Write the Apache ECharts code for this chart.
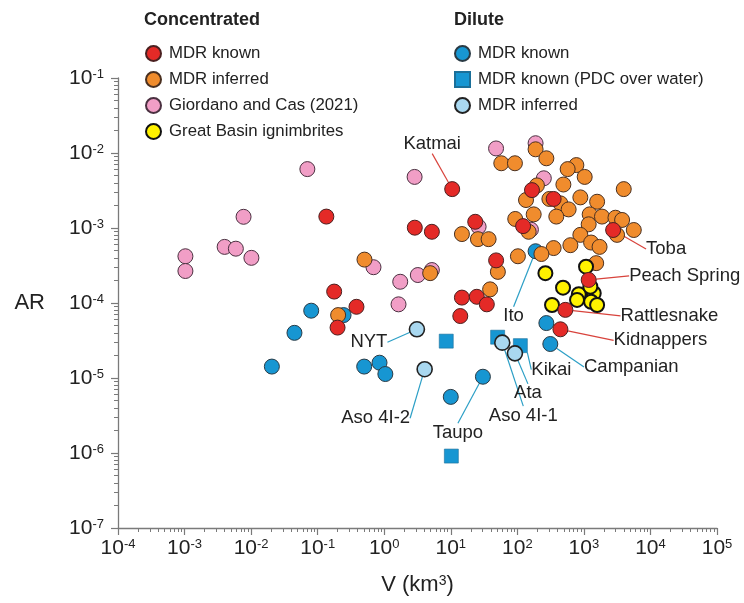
<!DOCTYPE html>
<html><head><meta charset="utf-8">
<script src="https://cdn.jsdelivr.net/npm/echarts@6/dist/echarts.min.js"></script>
<style>html,body{margin:0;padding:0;background:#fff}#c{width:744px;height:603px}</style>
</head><body><div id="c"></div>
<script>
// ---------- DATA ----------
// Concentrated – MDR known (red)
const concKnownV  = [0.135, 0.177, 0.383, 0.199, 10.5, 2.88, 5.2, 23.3, 166, 351, 2750, 122, 48, 14.7, 24.6, 34.8, 13.9, 1180, 527, 444];
const concKnownAR = [1.42e-3, 1.42e-4, 8.9e-5, 4.7e-5, 3.3e-3, 1.01e-3, 8.9e-4, 1.21e-3, 3.2e-3, 2.44e-3, 9.4e-4, 1.06e-3, 3.7e-4, 1.18e-4, 1.21e-4, 9.6e-5, 6.7e-5, 2.03e-4, 8.1e-5, 4.46e-5];
const concKnownNames = ['', '', '', '', 'Katmai', '', '', '', '', '', 'Toba', '', '', '', '', '', '', 'Peach Spring', 'Rattlesnake', 'Kidnappers'];
// Concentrated – MDR inferred (orange)
const concInfV  = [0.505, 0.203, 188, 273, 57.4, 92, 771, 570, 1028, 492, 3970, 197, 885, 1580, 303, 444, 590, 135, 176, 385, 1222, 1870, 2980, 3750, 5620, 3150, 1180, 93, 148, 885, 1283, 1720, 627, 351, 230, 102, 1530, 51, 14.7, 25.6, 37, 4.9, 39];
const concInfAR = [3.79e-4, 6.9e-5, 1.12e-2, 8.5e-3, 7.3e-3, 7.3e-3, 6.9e-3, 6.1e-3, 4.8e-3, 3.8e-3, 3.3e-3, 3.7e-3, 2.56e-3, 2.24e-3, 2.44e-3, 2.13e-3, 1.77e-3, 2.36e-3, 1.52e-3, 1.42e-3, 1.52e-3, 1.42e-3, 1.37e-3, 1.28e-3, 9.4e-4, 8.1e-4, 1.12e-3, 1.32e-3, 8.9e-4, 8.1e-4, 6.4e-4, 5.6e-4, 5.9e-4, 5.4e-4, 4.5e-4, 4.2e-4, 3.4e-4, 2.6e-4, 8.3e-4, 7.1e-4, 7.1e-4, 2.5e-4, 1.52e-4];
// Concentrated – Giordano and Cas (2021) (pink)
const giordanoV  = [0.00103, 0.00103, 0.0040, 0.0059, 0.0077, 0.0101, 0.070, 0.69, 1.74, 1.64, 3.2, 5.2, 2.86, 47.9, 188, 250, 26.2, 160];
const giordanoAR = [4.2e-4, 2.67e-4, 5.6e-4, 5.3e-4, 1.41e-3, 4.0e-4, 6.1e-3, 3.0e-4, 1.92e-4, 9.6e-5, 2.36e-4, 2.75e-4, 4.8e-3, 1.15e-2, 1.35e-2, 4.6e-3, 1.04e-3, 9.5e-4];
// Concentrated – Great Basin ignimbrites (yellow)
const greatBasinV  = [264, 1077, 486, 838, 1406, 1283, 789, 1580, 1250, 332];
const greatBasinAR = [2.5e-4, 3.05e-4, 1.6e-4, 1.31e-4, 1.35e-4, 1.04e-4, 1.1e-4, 9.4e-5, 1.65e-4, 9.4e-5];
// Dilute – MDR known (blue circles)
const dilKnownV  = [0.080, 0.0448, 0.245, 0.0205, 0.50, 0.85, 1.04, 188, 273, 313, 30.4, 10.0];
const dilKnownAR = [7.9e-5, 4.0e-5, 6.9e-5, 1.42e-5, 1.42e-5, 1.6e-5, 1.13e-5, 4.9e-4, 5.4e-5, 2.84e-5, 1.04e-5, 5.6e-6];
const dilKnownNames = ['', '', '', '', '', '', '', 'Ito', '', 'Campanian', 'Taupo', ''];
// Dilute – MDR known, PDC over water (blue squares)
const dilWaterV  = [8.55, 50.6, 111, 10.2];
const dilWaterAR = [3.1e-5, 3.5e-5, 2.7e-5, 9.1e-7];
const dilWaterNames = ['', '', 'Kikai', ''];
// Dilute – MDR inferred (light blue)
const dilInfV  = [3.1, 59.4, 92, 4.05];
const dilInfAR = [4.46e-5, 2.96e-5, 2.13e-5, 1.31e-5];
const dilInfNames = ['NYT', 'Aso 4I-1', 'Ata', 'Aso 4I-2'];

// ---------- LAYOUT / STYLE ----------
const labelOffsets = {
  'Katmai': [-20, -45], 'Toba': [53, 19], 'Peach Spring': [96, -4], 'Rattlesnake': [104, 6],
  'Kidnappers': [100, 11], 'Campanian': [81, 23], 'Ito': [-22, 65], 'Kikai': [31, 24],
  'Ata': [13, 40], 'Aso 4I-1': [21, 73], 'Taupo': [-25, 56], 'Aso 4I-2': [-49, 49], 'NYT': [-48, 13]
};
const FONT = '"Liberation Sans", Arial, sans-serif';
const RED_LINE = '#d8433c', BLUE_LINE = '#2c9fc6';

// log-style minor tick positions (2..9 x 10^k)
function minorTicks(lo, hi) {
  const out = [];
  for (let k = lo; k < hi; k++) for (let m = 2; m <= 9; m++) out.push(+(m * Math.pow(10, k)).toPrecision(3));
  return out;
}

function mk(V, AR, names) {
  return V.map((v, i) => {
    const n = names ? names[i] : '';
    const item = { value: [v, AR[i]], name: n };
    if (n) item.label = { show: true };
    return item;
  });
}
function series(name, V, AR, names, color, border, bw, symbol, size, lineColor) {
  return {
    name, type: 'scatter', data: mk(V, AR, names), symbol: symbol || 'circle', symbolSize: size || 15,
    itemStyle: { color, borderColor: border, borderWidth: bw, opacity: 1 },
    label: { show: false, position: 'inside', formatter: '{b}', fontSize: 18.5, color: '#222', fontFamily: FONT },
    labelLine: { show: true, lineStyle: { color: lineColor || RED_LINE, width: 1.2 } },
    labelLayout: p => { const o = labelOffsets[p.text]; return o ? { dx: o[0], dy: o[1] } : {}; },
    emphasis: { disabled: true }
  };
}
const supFmt = v => '{b|10}{s|' + Math.round(Math.log10(v)) + '}';
const tickRich = { b: { fontSize: 21, color: '#222', fontFamily: FONT }, s: { fontSize: 13, color: '#222', fontFamily: FONT, verticalAlign: 'top' } };
const axisGrey = '#7a7a7a';

function minorAxis(lo, hi, pos) {
  return {
    type: 'log', logBase: 10, min: Math.pow(10, lo), max: Math.pow(10, hi), position: pos, offset: 0,
    axisLine: { show: false }, axisLabel: { show: false }, splitLine: { show: false },
    axisTick: { show: true, length: 4, customValues: minorTicks(lo, hi), lineStyle: { color: axisGrey, width: 1 } }
  };
}

const chart = echarts.init(document.getElementById('c'), null, { renderer: 'canvas' });
chart.setOption({
  animation: false,
  textStyle: { fontFamily: FONT },
  title: [
    { text: 'Concentrated', left: 139, top: 6, textStyle: { fontSize: 18, fontWeight: 'bold', color: '#222', fontFamily: FONT } },
    { text: 'Dilute', left: 449, top: 6, textStyle: { fontSize: 18, fontWeight: 'bold', color: '#222', fontFamily: FONT } }
  ],
  legend: [
    { orient: 'vertical', left: 140, top: 40, itemWidth: 15, itemHeight: 15, itemGap: 9, icon: 'circle',
      data: ['C MDR known', 'C MDR inferred', 'C Giordano and Cas (2021)', 'C Great Basin ignimbrites'],
      formatter: n => n.slice(2), textStyle: { fontSize: 16.8, color: '#222', fontFamily: FONT, padding: [0, 0, 0, 3] }, selectedMode: false },
    { orient: 'vertical', left: 449, top: 40, itemWidth: 15, itemHeight: 15, itemGap: 9,
      data: [{ name: 'D MDR known', icon: 'circle' }, { name: 'D MDR known (PDC over water)', icon: 'rect' }, { name: 'D MDR inferred', icon: 'circle' }],
      formatter: n => n.slice(2), textStyle: { fontSize: 16.8, color: '#222', fontFamily: FONT, padding: [0, 0, 0, 3] }, selectedMode: false }
  ],
  grid: { left: 118, right: 27, top: 78, bottom: 75 },
  xAxis: [{
    type: 'log', logBase: 10, min: 1e-4, max: 1e5, position: 'bottom',
    name: 'V (km{s|3})', nameLocation: 'middle', nameGap: 46,
    nameTextStyle: { fontSize: 22, color: '#222', fontFamily: FONT, rich: { s: { fontSize: 14, color: '#222', verticalAlign: 'top', fontFamily: FONT } } },
    axisLine: { lineStyle: { color: axisGrey, width: 1.3 } },
    axisTick: { length: 7, lineStyle: { color: axisGrey, width: 1.2 } },
    minorTick: { show: false },
    splitLine: { show: false }, minorSplitLine: { show: false },
    axisLabel: { margin: 10, formatter: supFmt, rich: tickRich }
  }, minorAxis(-4, 5, 'bottom')],
  yAxis: [{
    type: 'log', logBase: 10, min: 1e-7, max: 1e-1, position: 'left',
    name: 'AR', nameLocation: 'middle', nameGap: 73, nameRotate: 0,
    nameTextStyle: { fontSize: 22, color: '#222', fontFamily: FONT },
    axisLine: { lineStyle: { color: axisGrey, width: 1.3 } },
    axisTick: { length: 7, lineStyle: { color: axisGrey, width: 1.2 } },
    minorTick: { show: false },
    splitLine: { show: false }, minorSplitLine: { show: false },
    axisLabel: { margin: 14, formatter: supFmt, rich: tickRich }
  }, minorAxis(-7, -1, 'left')],
  series: [
    series('D MDR known', dilKnownV, dilKnownAR, dilKnownNames, '#1796d2', '#2a3a44', 1, 'circle', 15, BLUE_LINE),
    series('D MDR known (PDC over water)', dilWaterV, dilWaterAR, dilWaterNames, '#1796d2', '#1b6f99', 0.6, 'rect', 14, BLUE_LINE),
    series('D MDR inferred', dilInfV, dilInfAR, dilInfNames, '#a9d8f0', '#222', 1.6, 'circle', 15, BLUE_LINE),
    series('C Giordano and Cas (2021)', giordanoV, giordanoAR, null, '#f19ec6', '#4a3040', 1, 'circle', 15),
    series('C MDR inferred', concInfV, concInfAR, null, '#f08c2d', '#4a3020', 1, 'circle', 15),
    series('C Great Basin ignimbrites', greatBasinV, greatBasinAR, null, '#fff200', '#111', 2, 'circle', 14),
    series('C MDR known', concKnownV, concKnownAR, concKnownNames, '#e42a27', '#4a2020', 1, 'circle', 15, RED_LINE)
  ]
});
</script></body></html>
